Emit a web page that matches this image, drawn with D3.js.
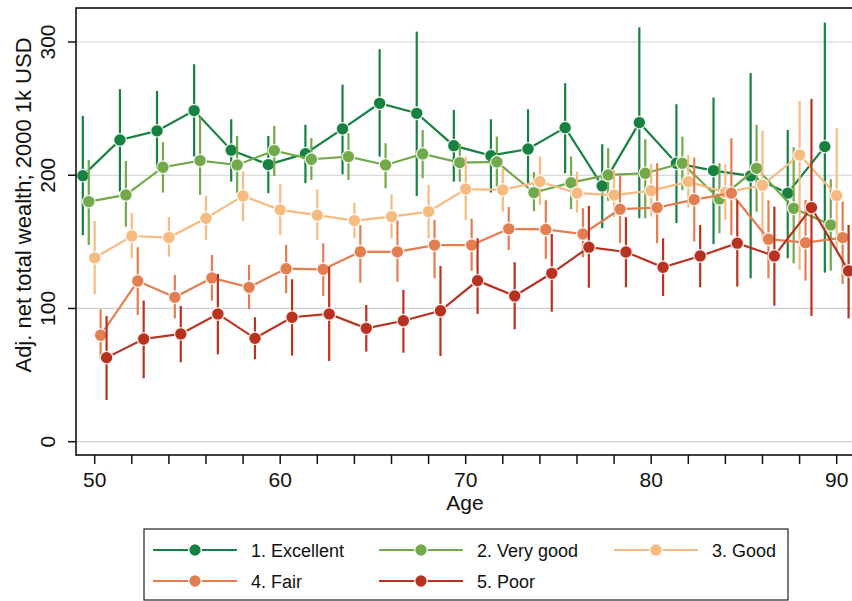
<!DOCTYPE html>
<html>
<head>
<meta charset="utf-8">
<script src="https://cdn.jsdelivr.net/npm/d3@7"></script>
<style>
  body { margin: 0; background: #fff; }
  text { font-family: "Liberation Sans", Arial, sans-serif; fill: #111; }
</style>
</head>
<body>
<svg id="chart"></svg>
<script>
// age groups (every 2 years) and the five self-rated health series
var ages = [50, 52, 54, 56, 58, 60, 62, 64, 66, 68, 70, 72, 74, 76, 78, 80, 82, 84, 86, 88, 90];
var labels = ['1. Excellent', '2. Very good', '3. Good', '4. Fair', '5. Poor'];
var colors = ['#168140', '#72a94b', '#f6bb80', '#e37e51', '#b83220'];
var dodge = [-0.64, -0.32, 0, 0.32, 0.64];

var excellent = [199.7, 226.5, 233.3, 248.5, 218.8, 208, 216.2, 234.8, 254, 246.5, 222.2, 214.7, 219.7, 235.7, 192, 239.5, 209, 203.5, 199.5, 186.5, 221.5];
var excellentLo = [155, 187.7, 205, 214, 195.2, 186.5, 194, 200.7, 214, 184.5, 195.2, 187, 194, 201.5, 160.2, 167.7, 164, 148.4, 122.7, 137.7, 126.9];
var excellentHi = [244.5, 264.6, 263.3, 283.3, 242, 229.5, 237.8, 268, 294.6, 307.8, 249, 242, 249.5, 269, 223.3, 311, 253.3, 258.3, 276.6, 234, 314.6];

var veryGood = [180.2, 185.2, 206, 211, 207.7, 218.5, 212, 214, 207.7, 216, 209.5, 210, 187, 194.4, 200.2, 201.5, 209, 182.2, 205.2, 175.2, 162.7];
var veryGoodLo = [147.7, 161.4, 187, 185.2, 186.5, 199.5, 196.5, 196.5, 190.2, 197.7, 195.2, 191.4, 173, 174.5, 180.8, 167.7, 188.7, 156.5, 172.7, 133.9, 128.4];
var veryGoodHi = [211.5, 210.7, 224.8, 244, 229.5, 237, 227.8, 231.5, 224, 234, 223.5, 229, 202.3, 214, 220.3, 227, 229, 209, 237.8, 221, 197];

var good = [138, 154.4, 153.2, 167.7, 184.5, 174, 170, 166, 169, 172.7, 189.6, 189, 195.2, 186.5, 185.1, 188.4, 195.2, 187.1, 192.5, 215.2, 184.8];
var goodLo = [110.7, 137.7, 138.9, 151.4, 165.7, 155, 151.4, 152.7, 152.7, 152.7, 166.4, 172.7, 177.7, 172, 168.6, 169, 175.8, 166.4, 151.4, 129, 143];
var goodHi = [165.7, 171.5, 168.5, 184.5, 202.7, 193.5, 189.5, 179.4, 185.7, 192.7, 214, 205.2, 214, 202.7, 204, 208.5, 215.2, 208.5, 233.3, 255.8, 235.3];

var fair = [79.9, 120.6, 108.4, 122.9, 115.9, 129.9, 129.4, 142.6, 142.5, 147.6, 147.6, 159.8, 159.3, 155.9, 174.5, 175.7, 181.7, 186.5, 152, 149.4, 153.2];
var fairLo = [62.6, 95.1, 92.6, 105.9, 99.4, 111.4, 109.4, 119.4, 120, 122.7, 128.2, 143.9, 137.2, 138.4, 149, 149, 150.2, 155, 122.7, 120.9, 118.4];
var fairHi = [99.4, 146, 125.2, 140.2, 132.7, 147.7, 148.9, 162.6, 166, 166.4, 167.4, 176.2, 181.2, 175.3, 199.8, 209, 213.2, 227.8, 181.2, 181.5, 180.2];

var poor = [63.1, 77.1, 80.9, 95.9, 77.6, 93.4, 95.9, 85.1, 90.8, 98.3, 120.9, 109.4, 126.4, 146, 142.4, 130.9, 139.4, 149, 139.4, 175.7, 128.2];
var poorLo = [31.3, 47.6, 59.6, 65.6, 61.9, 64.6, 60.6, 67.6, 66.8, 64.3, 95.9, 84.4, 97.6, 115.6, 115.9, 109.4, 115.9, 116.4, 102.1, 94.4, 92.6];
var poorHi = [94.4, 105.9, 101.9, 125.9, 93.4, 121.9, 131.4, 102.6, 113.9, 131.9, 152.7, 134.7, 155.9, 177, 168.5, 152.7, 162.7, 181, 176.4, 257.3, 162.7];

var yTicks = [0, 100, 200, 300];
var xLabelTicks = [50, 60, 70, 80, 90];
var xMinorTicks = d3.range(50, 91, 2);

var means = [excellent, veryGood, good, fair, poor];
var lows = [excellentLo, veryGoodLo, goodLo, fairLo, poorLo];
var highs = [excellentHi, veryGoodHi, goodHi, fairHi, poorHi];

var width = 852, height = 601;
var plot = { left: 76, top: 8, right: 900, bottom: 455 };

var svg = d3.select('#chart')
  .attr('width', width)
  .attr('height', height);

var x = d3.scaleLinear().domain([50, 90]).range([94.7, 836.7]);
var y = d3.scaleLinear().domain([0, 300]).range([441.7, 42]);

// gridlines
svg.append('g')
  .selectAll('line')
  .data(yTicks)
  .enter().append('line')
  .attr('x1', plot.left).attr('x2', plot.right)
  .attr('y1', function (d) { return y(d); })
  .attr('y2', function (d) { return y(d); })
  .attr('stroke', '#cfcfcf')
  .attr('stroke-width', 1.2);

// series: CI spikes, then connected line with markers
var series = means.map(function (m, i) {
  return ages.map(function (a, j) {
    return { age: a + dodge[i], mean: m[j], lo: lows[i][j], hi: highs[i][j] };
  });
});

var line = d3.line()
  .x(function (d) { return x(d.age); })
  .y(function (d) { return y(d.mean); });

series.forEach(function (s, i) {
  var g = svg.append('g');
  g.selectAll('.ci')
    .data(s)
    .enter().append('line')
    .attr('class', 'ci')
    .attr('x1', function (d) { return x(d.age); })
    .attr('x2', function (d) { return x(d.age); })
    .attr('y1', function (d) { return y(d.lo); })
    .attr('y2', function (d) { return y(d.hi); })
    .attr('stroke', colors[i])
    .attr('stroke-width', 2.2);
  g.append('path')
    .datum(s)
    .attr('d', line)
    .attr('fill', 'none')
    .attr('stroke', colors[i])
    .attr('stroke-width', 2.2);
  g.selectAll('circle')
    .data(s)
    .enter().append('circle')
    .attr('cx', function (d) { return x(d.age); })
    .attr('cy', function (d) { return y(d.mean); })
    .attr('r', 6.3)
    .attr('fill', colors[i])
    .attr('stroke', '#fff')
    .attr('stroke-opacity', 0.85)
    .attr('stroke-width', 1.3);
});

// frame
svg.append('rect')
  .attr('x', plot.left).attr('y', plot.top)
  .attr('width', plot.right - plot.left)
  .attr('height', plot.bottom - plot.top)
  .attr('fill', 'none')
  .attr('stroke', '#111')
  .attr('stroke-width', 1.6);

// y axis ticks and labels
svg.append('g')
  .selectAll('line')
  .data(yTicks)
  .enter().append('line')
  .attr('x1', 68).attr('x2', plot.left)
  .attr('y1', function (d) { return y(d); })
  .attr('y2', function (d) { return y(d); })
  .attr('stroke', '#111')
  .attr('stroke-width', 1.5);

svg.append('g')
  .selectAll('text')
  .data(yTicks)
  .enter().append('text')
  .attr('transform', function (d) { return 'translate(55,' + y(d) + ') rotate(-90)'; })
  .attr('text-anchor', 'middle')
  .style('font-size', '21px')
  .text(function (d) { return d; });

svg.append('text')
  .attr('transform', 'translate(31,205) rotate(-90)')
  .attr('text-anchor', 'middle')
  .style('font-size', '22px')
  .text('Adj. net total wealth; 2000 1k USD');

// x axis ticks and labels
svg.append('g')
  .selectAll('line')
  .data(xMinorTicks)
  .enter().append('line')
  .attr('x1', function (d) { return x(d); })
  .attr('x2', function (d) { return x(d); })
  .attr('y1', plot.bottom).attr('y2', plot.bottom + 9)
  .attr('stroke', '#111')
  .attr('stroke-width', 1.5);

svg.append('g')
  .selectAll('text')
  .data(xLabelTicks)
  .enter().append('text')
  .attr('x', function (d) { return x(d); })
  .attr('y', 486.5)
  .attr('text-anchor', 'middle')
  .style('font-size', '21px')
  .text(function (d) { return d; });

svg.append('text')
  .attr('x', 465)
  .attr('y', 510)
  .attr('text-anchor', 'middle')
  .style('font-size', '21px')
  .text('Age');

// legend
var legend = svg.append('g');
legend.append('rect')
  .attr('x', 144).attr('y', 529)
  .attr('width', 644).attr('height', 71)
  .attr('fill', '#fff')
  .attr('stroke', '#222')
  .attr('stroke-width', 1.2);

var legendCols = [153, 379, 614];
var legendRows = [550, 581];

labels.forEach(function (lab, i) {
  var lx = legendCols[i % 3], ly = legendRows[Math.floor(i / 3)];
  var item = legend.append('g').attr('transform', 'translate(' + lx + ',' + ly + ')');
  item.append('line')
    .attr('x1', 0).attr('x2', 84)
    .attr('y1', 0).attr('y2', 0)
    .attr('stroke', colors[i])
    .attr('stroke-width', 2.2);
  item.append('circle')
    .attr('cx', 42).attr('cy', 0)
    .attr('r', 6.3)
    .attr('fill', colors[i])
    .attr('stroke', '#fff')
    .attr('stroke-width', 1.3);
  item.append('text')
    .attr('x', 98).attr('y', 6.5)
    .style('font-size', '18px')
    .text(lab);
});
</script>
</body>
</html>
